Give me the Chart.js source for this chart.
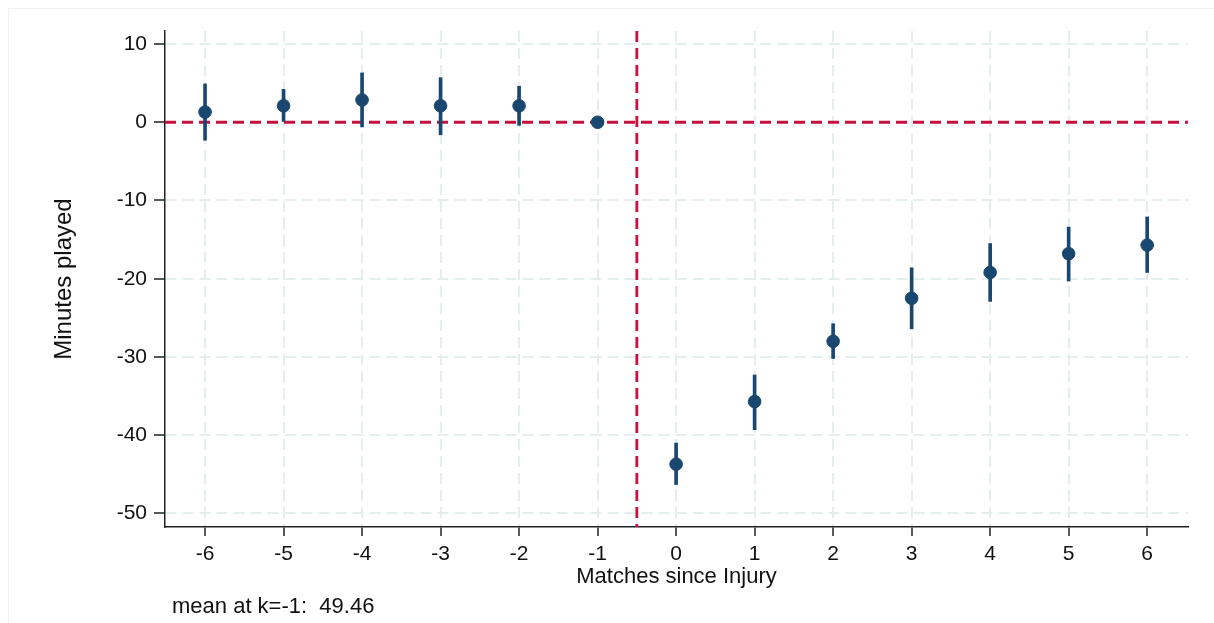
<!DOCTYPE html>
<html>
<head>
<meta charset="utf-8">
<title>Minutes played by matches since injury</title>
<script src="https://cdn.jsdelivr.net/npm/chart.js@4.4.1/dist/chart.umd.min.js"></script>
<style>
    body { margin: 0; background: #fff; }
    #wrap { position: relative; width: 1214px; height: 623px; }
    #frame { position: absolute; left: 8px; top: 8px; right: 0; bottom: 0;
             border-top: 1px solid #f0f0f0; border-left: 1px solid #f0f0f0; }
    #note { position: absolute; left: 172px; top: 593px; white-space: pre;
            font: 22px "Liberation Sans", Arial, sans-serif; color: #111; }
</style>
</head>
<body>
<div id="wrap">
    <div id="frame"></div>
    <canvas id="chart"></canvas>
    <div id="note">mean at k=-1:  49.46</div>
</div>
<script>
// ------------------------------------------------------------
// Data
// ------------------------------------------------------------
const matches  = [-6, -5, -4, -3, -2, -1, 0, 1, 2, 3, 4, 5, 6];
const estimate = [1.3, 2.1, 2.85, 2.1, 2.1, 0, -43.7, -35.7, -28.0, -22.5, -19.2, -16.8, -15.7];
const ciLow    = [-2.3, 0.1, -0.6, -1.6, -0.4, null, -46.3, -39.3, -30.2, -26.4, -22.9, -20.3, -19.2];
const ciHigh   = [4.9, 4.2, 6.3, 5.7, 4.6, null, -41.0, -32.3, -25.75, -18.6, -15.5, -13.4, -12.1];

const xTicks = [-6, -5, -4, -3, -2, -1, 0, 1, 2, 3, 4, 5, 6];
const yTicks = [-50, -40, -30, -20, -10, 0, 10];

const xMin = -6.51, xMax = 6.52;
const yMin = -51.73, yMax = 11.66;
const injuryLine = -0.5;   // vertical reference
const zeroLine = 0;        // horizontal reference

// ------------------------------------------------------------
// Styles
// ------------------------------------------------------------
const NAVY = '#1a476f';
const RED = '#c8103e';
const GRID = '#e4eeef';
const FONT = '"Liberation Sans", Arial, sans-serif';

const pontos = matches.map((k, i) => ({ x: k, y: estimate[i] }));
const barras = [];
matches.forEach((k, i) => {
    if (ciLow[i] !== null) barras.push({ x: k, y: [ciLow[i], ciHigh[i]] });
});

function eixo(ticks) {
    return s => { s.ticks = ticks.map(v => ({ value: v })); };
}

new Chart(document.getElementById('chart'), {
    data: {
        datasets: [
            {
                type: 'scatter',
                data: pontos,
                backgroundColor: NAVY,
                borderColor: NAVY,
                pointRadius: 6.3,
                pointHoverRadius: 6.3,
                order: 0
            },
            {
                type: 'bar',
                data: barras,
                backgroundColor: NAVY,
                barThickness: 3,
                borderWidth: 0,
                order: 1
            },
            {
                type: 'scatter',
                data: [{ x: xMin, y: zeroLine }, { x: xMax, y: zeroLine }],
                showLine: true,
                pointRadius: 0,
                borderColor: RED,
                borderWidth: 2.8,
                borderDash: [11, 6],
                order: 2
            },
            {
                type: 'scatter',
                data: [{ x: injuryLine, y: yMax }, { x: injuryLine, y: yMin }],
                showLine: true,
                pointRadius: 0,
                borderColor: RED,
                borderWidth: 2.8,
                borderDash: [11, 6],
                order: 2
            }
        ]
    },
    options: {
        responsive: true,
        maintainAspectRatio: false,
        animation: false,
        events: [],
        layout: { padding: { top: 31, right: 26, left: 0, bottom: 0 } },
        plugins: {
            legend: { display: false },
            tooltip: { enabled: false }
        },
        scales: {
            x: {
                type: 'linear',
                min: xMin,
                max: xMax,
                offset: false,
                afterBuildTicks: eixo(xTicks),
                afterFit: s => { s.height = 96; },
                grid: {
                    offset: false,
                    color: GRID,
                    lineWidth: 2,
                    tickColor: '#222',
                    tickWidth: 1.5,
                    tickLength: 9,
                    tickBorderDash: []
                },
                border: { color: '#222', width: 1.5, dash: [11, 6] },
                ticks: {
                    color: '#111',
                    font: { family: FONT, size: 21 },
                    padding: 6,
                    maxRotation: 0,
                    autoSkip: false
                },
                title: {
                    display: true,
                    text: 'Matches since Injury',
                    color: '#111',
                    font: { family: FONT, size: 22 },
                    padding: { top: 0, bottom: 33 }
                }
            },
            y: {
                type: 'linear',
                min: yMin,
                max: yMax,
                afterBuildTicks: eixo(yTicks),
                afterFit: s => { s.width = 165; },
                grid: {
                    color: GRID,
                    lineWidth: 2,
                    tickColor: '#222',
                    tickWidth: 1.5,
                    tickLength: 11,
                    tickBorderDash: []
                },
                border: { color: '#222', width: 1.5, dash: [11, 6] },
                ticks: {
                    color: '#111',
                    font: { family: FONT, size: 21 },
                    padding: 7
                },
                title: {
                    display: true,
                    text: 'Minutes played',
                    color: '#111',
                    font: { family: FONT, size: 24 },
                    padding: { top: 50, bottom: 0 }
                }
            }
        }
    }
});
</script>
</body>
</html>
